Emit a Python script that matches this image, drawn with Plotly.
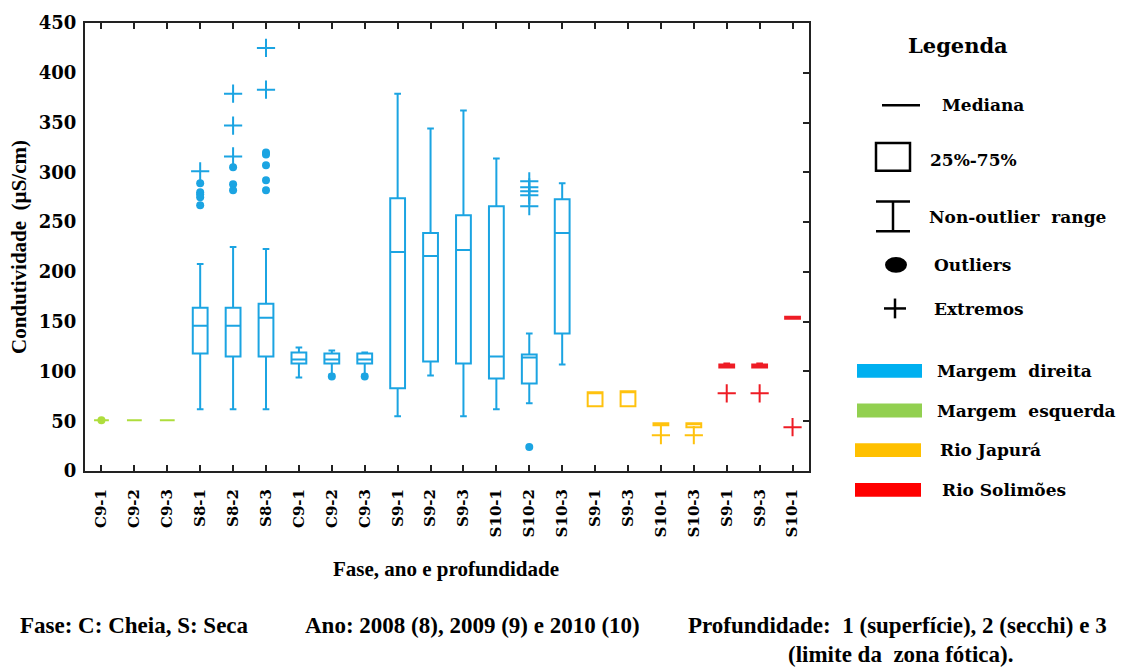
import plotly.graph_objects as go

# ---------------- data ----------------
labels = ["C9-1", "C9-2", "C9-3", "S8-1", "S8-2", "S8-3", "C9-1", "C9-2", "C9-3",
          "S9-1", "S9-2", "S9-3", "S10-1", "S10-2", "S10-3",
          "S9-1", "S9-3", "S10-1", "S10-3",
          "S9-1", "S9-3", "S10-1"]
groups = ["esq"] * 3 + ["dir"] * 12 + ["jap"] * 4 + ["sol"] * 3

q1 = [51, 51, 51, 118, 115, 115, 108, 108, 108, 83, 110, 108, 93, 88, 138,
      65, 65, 46, 44, 104, 104, 153]
median = [51, 51, 51, 146, 146, 154, 112, 112, 112, 220, 216, 222, 115, 114, 239,
          79, 79, 47, 48, 107, 107, 154]
q3 = [51, 51, 51, 164, 164, 168, 119, 118, 118, 274, 239, 257, 266, 117, 273,
      79, 80, 48, 48, 107, 107, 155]
lowerfence = [51, 51, 51, 62, 62, 62, 94, 97, 97, 55, 96, 55, 62, 68, 107,
              65, 65, 46, 44, 104, 104, 153]
upperfence = [51, 51, 51, 208, 225, 223, 124, 121, 119, 379, 344, 362, 314, 138, 289,
              79, 80, 48, 48, 108, 108, 155]
outliers = [[51], [], [], [289, 280, 278, 275, 267], [305, 288, 282],
            [320, 318, 307, 292, 282], [], [95], [95], [], [], [], [], [24], [],
            [], [], [], [], [], [], []]
extremes = [[], [], [], [301], [316, 347, 379], [383, 425], [], [], [], [], [], [],
            [], [291, 285, 281, 277, 266], [], [], [], [36], [36], [78], [78], [44]]

group_colors = {"dir": "#1BA4E2", "esq": "#AEDD3C", "jap": "#FFC20E", "sol": "#EE1C25"}
legend_names = ["Margem  direita", "Margem  esquerda", "Rio Japurá", "Rio Solimões"]
legend_colors = ["#00B0F0", "#92D050", "#FFC000", "#FF0000"]

# ---------------- figure ----------------
fig = go.Figure()

for g in ["esq", "dir", "jap", "sol"]:
    idx = [i for i, gg in enumerate(groups) if gg == g]
    col = group_colors[g]
    fig.add_trace(go.Box(
        x=idx,
        q1=[q1[i] for i in idx], median=[median[i] for i in idx],
        q3=[q3[i] for i in idx],
        lowerfence=[lowerfence[i] for i in idx],
        upperfence=[upperfence[i] for i in idx],
        boxpoints=False, width=0.45, whiskerwidth=0.45,
        line=dict(color=col, width=2), fillcolor="rgba(255,255,255,0)",
        showlegend=False, hoverinfo="skip"))
    ox, oy, ex, ey = [], [], [], []
    for i in idx:
        ox += [i] * len(outliers[i]); oy += outliers[i]
        ex += [i] * len(extremes[i]); ey += extremes[i]
    if ox:
        fig.add_trace(go.Scatter(x=ox, y=oy, mode="markers", showlegend=False,
                                 marker=dict(symbol="circle", size=8, color=col)))
    if ex:
        fig.add_trace(go.Scatter(x=ex, y=ey, mode="markers", showlegend=False,
                                 marker=dict(symbol="cross-thin", size=13,
                                             line=dict(color=col, width=2))))

# invisible trace to hold the right-hand tick axis
fig.add_trace(go.Scatter(x=[0], y=[0], yaxis="y2", mode="markers",
                         marker=dict(opacity=0), showlegend=False, hoverinfo="skip"))

L, R, T, B = 85, 314, 19, 199
W, H = 1123, 670
PW, PH = W - L - R, H - T - B


def px(xp):
    return (xp - L) / PW


def py(yp):
    return (H - B - yp) / PH


TICKFONT = "DejaVu Serif"
SERIF = "Liberation Serif"

fig.update_layout(
    width=W, height=H, margin=dict(l=L, r=R, t=T, b=B),
    plot_bgcolor="white", paper_bgcolor="white", showlegend=False,
    xaxis=dict(range=[-0.5, 21.5], tickmode="array", tickvals=list(range(len(labels))),
               ticktext=labels, tickangle=-90, ticks="inside", ticklen=6, tickwidth=2,
               tickcolor="#222", showline=True, linecolor="#222", linewidth=2,
               mirror="ticks", showgrid=False, zeroline=False, ticklabelstandoff=10,
               tickfont=dict(family=TICKFONT, size=15, color="black", weight="bold")),
    yaxis=dict(range=[0, 450], dtick=50, ticks="", showline=True, linecolor="#222",
               linewidth=2, mirror=True, showgrid=False, zeroline=False,
               ticklabelstandoff=3,
               tickfont=dict(family=TICKFONT, size=18, color="black", weight="bold"),
               title=dict(text="Condutividade  (µS/cm)", standoff=6,
                          font=dict(family=SERIF, size=21, color="black", weight="bold"))),
    yaxis2=dict(range=[0, 450], dtick=50, overlaying="y", side="right", ticks="inside",
                ticklen=6, tickwidth=2, tickcolor="#222", showticklabels=False,
                showgrid=False, zeroline=False, showline=False),
)

ann = []


def text(x, y, s, size=17, family=TICKFONT, anchor="left"):
    ann.append(dict(x=px(x), y=py(y), xref="paper", yref="paper", text=s,
                    showarrow=False, xanchor=anchor, yanchor="middle",
                    font=dict(family=family, size=size, color="black", weight="bold")))


text(446, 570, "Fase, ano e profundidade", size=21, family=SERIF, anchor="center")
text(18, 627, "Fase: C: Cheia, S: Seca", size=23, family=SERIF)
text(303, 627, "Ano: 2008 (8), 2009 (9) e 2010 (10)", size=23, family=SERIF)
text(686, 627, "Profundidade:  1 (superfície), 2 (secchi) e 3", size=23, family=SERIF)
text(786, 656, "(limite da  zona fótica).", size=23, family=SERIF)

text(958, 42, "Legenda", size=21, anchor="center")
text(940, 102, "Mediana")
text(928, 157, "25%-75%")
text(927, 215, "Non-outlier  range")
text(932, 263, "Outliers")
text(932, 308, "Extremos")

shapes = []


def line(x0, y0, x1, y1, w=2.5, color="black"):
    shapes.append(dict(type="line", xref="paper", yref="paper", x0=px(x0), y0=py(y0),
                       x1=px(x1), y1=py(y1), line=dict(color=color, width=w)))


line(882, 102, 920, 102)
shapes.append(dict(type="rect", xref="paper", yref="paper", x0=px(876), x1=px(910),
                   y0=py(140), y1=py(168), line=dict(color="black", width=2.5)))
line(876, 199, 910, 199)
line(876, 229, 910, 229)
line(893, 199, 893, 229)
shapes.append(dict(type="circle", xref="paper", yref="paper", x0=px(885), x1=px(907),
                   y0=py(255), y1=py(271), fillcolor="black", line=dict(width=0)))
line(884, 307, 906, 307)
line(895, 297, 895, 317)

bar_y = [370, 410, 450, 490]
bar_x = [(857, 922), (857, 922), (855, 921), (855, 921)]
text_x = [935, 935, 938, 940]
for name, col, yy, (xa, xb), tx in zip(legend_names, legend_colors, bar_y, bar_x, text_x):
    shapes.append(dict(type="rect", xref="paper", yref="paper", x0=px(xa), x1=px(xb),
                       y0=py(yy - 7), y1=py(yy + 7), fillcolor=col, line=dict(width=0)))
    text(tx, yy, name)

fig.update_layout(annotations=ann, shapes=shapes)
fig.write_html("out.html")
